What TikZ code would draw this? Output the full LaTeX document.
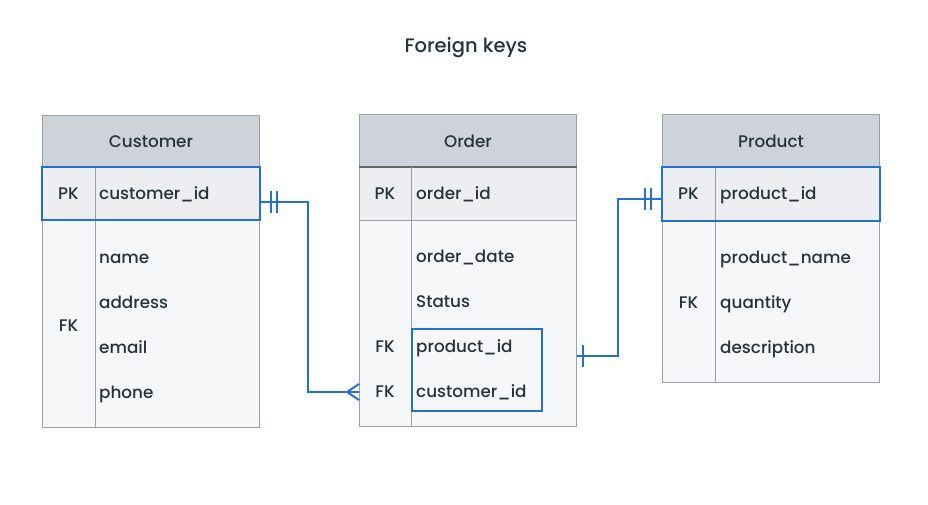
\documentclass[tikz,border=0pt]{standalone}
\usepackage{fontspec}
\setmainfont{Poppins Medium}
\usetikzlibrary{calc}
\definecolor{hdrc}{HTML}{CDD3D9}
\definecolor{pkc}{HTML}{ECEEF1}
\definecolor{bodyc}{HTML}{F6F7F9}
\definecolor{linec}{HTML}{9AA0A6}
\definecolor{bluec}{HTML}{2270D6}
\definecolor{txtc}{HTML}{283339}
\tikzset{
  every node/.style={text=txtc, font=\fontsize{16.8}{18}\selectfont, inner sep=0pt},
  hdrbox/.style={fill=hdrc, draw=linec, line width=1pt, minimum width=217pt, minimum height=52pt, anchor=north west},
  pkbox/.style={fill=pkc, draw=linec, line width=1pt, minimum width=217pt, minimum height=53pt, anchor=north west},
  bodybox/.style={fill=bodyc, draw=linec, line width=1pt, minimum width=217pt, anchor=north west},
  bluebox/.style={draw=bluec, line width=2pt},
  divider/.style={draw=linec, line width=1pt},
  rel/.style={draw=bluec, line width=2pt},
  lbl/.style={anchor=base west},
  key/.style={anchor=base},
  ttl/.style={font=\fontsize{19.5}{22}\selectfont}
}
\begin{document}
\begin{tikzpicture}[x=1pt,y=-1pt]
\useasboundingbox[fill=white] (0,0) rectangle (928,505);
\node[ttl] (title) at (466,48) {Foreign keys};

% Customer
\node[bodybox, minimum height=208pt] (custbody) at (42,219) {};
\node[hdrbox] (custhdr) at (42,115) {};
\node at (custhdr.center) {Customer};
\node[pkbox, minimum height=52pt] (custpk) at (42,167) {};
\draw[divider] (95,167) -- (95,427);
\draw[bluebox] (custpk.south west) rectangle (custpk.north east);
\node[key] at (68.5,199) {PK};
\node[lbl] at (99,199) {customer\_id};
\node[lbl] at (99,263) {name};
\node[lbl] at (99,308) {address};
\node[lbl] at (99,353) {email};
\node[lbl] at (99,398) {phone};
\node[key] at (68.5,331) {FK};

% Order
\node[bodybox, minimum height=206pt] (ordbody) at (359,220) {};
\node[hdrbox, minimum height=53pt] (ordhdr) at (359,114) {};
\node at (ordhdr.center) {Order};
\node[pkbox] (ordpk) at (359,167) {};
\draw[draw=black!60, line width=1.5pt] (ordpk.north west) -- (ordpk.north east);
\draw[divider] (411,167) -- (411,426);
\node[key] at (385,199) {PK};
\node[lbl] at (416,199) {order\_id};
\node[lbl] at (416,262) {order\_date};
\node[lbl] at (416,307) {Status};
\node[lbl] at (416,352) {product\_id};
\node[lbl] at (416,397) {customer\_id};
\node[key] at (385,352) {FK};
\node[key] at (385,397) {FK};
\node[bluebox, minimum width=130pt, minimum height=82pt, anchor=north west] (ordfk) at (410.5,327.5) {};

% Product
\node[bodybox, minimum height=162pt] (prodbody) at (662,220) {};
\node[hdrbox, minimum height=53pt] (prodhdr) at (662,114) {};
\node at (prodhdr.center) {Product};
\node[pkbox] (prodpk) at (662,167) {};
\draw[divider] (715,167) -- (715,382);
\draw[bluebox] (prodpk.south west) rectangle (prodpk.north east);
\node[key] at (688.5,199) {PK};
\node[lbl] at (720,199) {product\_id};
\node[lbl] at (720,263) {product\_name};
\node[lbl] at (720,308) {quantity};
\node[lbl] at (720,353) {description};
\node[key] at (688.5,308) {FK};

% Relationship customer -> order
\coordinate (c1a) at (custpk.east |- 0,202);
\coordinate (c1b) at (ordbody.west |- 0,392);
\draw[rel] (c1a) -- (308,202) |- (c1b);
\draw[rel] (271,191) -- (271,213);
\draw[rel] (277,191) -- (277,213);
\draw[rel] (c1b) ++(-12,0) -- ++(12,-8);
\draw[rel] (c1b) ++(-12,0) -- ++(12,8);

% Relationship order -> product
\coordinate (c2a) at (ordbody.east |- 0,356);
\coordinate (c2b) at (prodpk.west |- 0,199);
\draw[rel] (c2a) -- (618,356) |- (c2b);
\draw[rel] (583,345) -- (583,367);
\draw[rel] (645,188) -- (645,210);
\draw[rel] (650.5,188) -- (650.5,210);
\end{tikzpicture}
\end{document}
